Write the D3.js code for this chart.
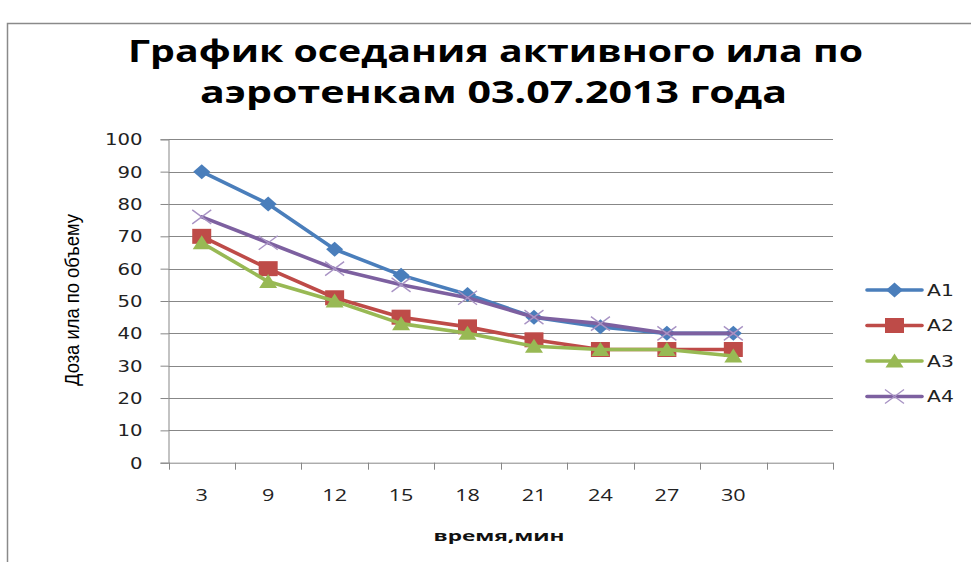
<!DOCTYPE html>
<html>
<head>
<meta charset="utf-8">
<script src="https://cdn.jsdelivr.net/npm/d3@7"></script>
<style>
  html, body { margin: 0; padding: 0; background: #fff; overflow: hidden; }
  svg { display: block; }
</style>
</head>
<body>
<svg id="chart" width="971" height="562"></svg>
<script>
// Время отбора пробы, мин
const categories = ["3", "9", "12", "15", "18", "21", "24", "27", "30"];
// Доза ила по объему для каждого аэротенка
const seriesNames = ["A1", "A2", "A3", "A4"];
const valuesA1 = [90, 80, 66, 58, 52, 45, 42, 40, 40];
const valuesA2 = [70, 60, 51, 45, 42, 38, 35, 35, 35];
const valuesA3 = [68, 56, 50, 43, 40, 36, 35, 35, 33];
const valuesA4 = [76, 68, 60, 55, 51, 45, 43, 40, 40];
const yTicks = [0, 10, 20, 30, 40, 50, 60, 70, 80, 90, 100];

const titleLines = ["График оседания активного ила по", "аэротенкам 03.07.2013 года"];
const xTitle = "время,мин";
const yTitle = "Доза ила по объему";

const colors = ["#4A7EBB", "#BE4B48", "#98B954", "#7D60A0"];
const markers = ["diamond", "square", "triangle", "cross"];
const series = seriesNames.map((name, i) => ({
  name,
  values: [valuesA1, valuesA2, valuesA3, valuesA4][i],
  color: colors[i],
  marker: markers[i]
}));

const svg = d3.select("#chart");
const STRETCH = 1.27;     // horizontal widening of all lettering
const gridColor = "#878787";

// widen text glyphs horizontally by a factor
function widen(sel, factor) {
  sel.each(function () {
    const w = this.getComputedTextLength();
    d3.select(this).attr("textLength", w * factor).attr("lengthAdjust", "spacingAndGlyphs");
  });
}

// outer chart frame
svg.append("rect")
  .attr("x", 7.5).attr("y", 23.5)
  .attr("width", 1000).attr("height", 600)
  .attr("fill", "none").attr("stroke", "#8a8a8a").attr("stroke-width", 1.5);

// title
const titleFont = "'Open Sans', sans-serif";
svg.append("text")
  .attr("x", 495.5).attr("y", 62)
  .attr("text-anchor", "middle")
  .style("font-family", titleFont).style("font-weight", 700).style("font-size", "30px")
  .attr("textLength", 735).attr("lengthAdjust", "spacingAndGlyphs")
  .text(titleLines[0]);
svg.append("text")
  .attr("x", 493.5).attr("y", 103)
  .attr("text-anchor", "middle")
  .style("font-family", titleFont).style("font-weight", 700).style("font-size", "30px")
  .attr("textLength", 587).attr("lengthAdjust", "spacingAndGlyphs")
  .text(titleLines[1]);

// plot area
const plot = { left: 168.5, right: 833, top: 139.3, bottom: 462.7 };
const slots = categories.concat([" "]);
const x = d3.scaleBand().domain(slots).range([plot.left, plot.right]).padding(0);
const y = d3.scaleLinear().domain([0, 100]).range([plot.bottom, plot.top]);

// horizontal gridlines
svg.append("g")
  .selectAll("line")
  .data(yTicks.filter(t => t > 0))
  .join("line")
  .attr("x1", plot.left).attr("x2", plot.right)
  .attr("y1", d => Math.round(y(d)) + 0.5).attr("y2", d => Math.round(y(d)) + 0.5)
  .attr("stroke", gridColor).attr("stroke-width", 1);

// y axis
const yAxis = svg.append("g")
  .attr("transform", `translate(${plot.left},0)`)
  .call(d3.axisLeft(y).tickValues(yTicks).tickSize(8).tickPadding(18));
yAxis.select(".domain").attr("stroke", gridColor);
yAxis.selectAll(".tick line").attr("stroke", gridColor);
yAxis.selectAll(".tick text")
  .style("font-family", "'DejaVu Sans', sans-serif").style("font-size", "15.5px")
  .attr("fill", "#222").attr("dy", "0.36em")
  .call(widen, STRETCH);

// x axis (ticks on category boundaries)
const xAxis = svg.append("g")
  .attr("transform", `translate(0,${plot.bottom})`)
  .call(d3.axisBottom(x).tickSize(0).tickPadding(0));
xAxis.select(".domain").attr("stroke", gridColor);
xAxis.selectAll(".tick text")
  .attr("y", 38).attr("dy", 0)
  .style("font-family", "'Open Sans', sans-serif").style("font-size", "17px")
  .attr("fill", "#222")
  .call(widen, STRETCH);
xAxis.selectAll(".boundary")
  .data(slots.map(s => x(s)).concat([x(slots[slots.length - 1]) + x.bandwidth()]))
  .join("line")
  .attr("class", "boundary")
  .attr("x1", d => Math.round(d) + 0.5).attr("x2", d => Math.round(d) + 0.5)
  .attr("y1", 0).attr("y2", 7)
  .attr("stroke", gridColor);

// axis titles
svg.append("text")
  .attr("x", 499).attr("y", 541)
  .attr("text-anchor", "middle")
  .style("font-family", "'Open Sans', sans-serif").style("font-weight", 700).style("font-size", "14px")
  .attr("fill", "#111")
  .attr("textLength", 131).attr("lengthAdjust", "spacingAndGlyphs")
  .text(xTitle);
svg.append("text")
  .attr("transform", "translate(79,300) rotate(-90) scale(1,1.15)")
  .attr("text-anchor", "middle")
  .style("font-family", "'Liberation Sans', sans-serif").style("font-size", "17px")
  .style("font-weight", 500)
  .attr("fill", "#000")
  .attr("textLength", 172).attr("lengthAdjust", "spacingAndGlyphs")
  .text(yTitle);

// marker shapes
function markerPath(type) {
  switch (type) {
    case "diamond": return "M0,-7.5L8.5,0L0,7.5L-8.5,0Z";
    case "square": return "M-9.5,-7.5H9.5V7.5H-9.5Z";
    case "triangle": return "M0,-7.5L9,6.5H-9Z";
    case "cross": return "M-9.5,-7L9.5,7M-9.5,7L9.5,-7";
  }
}
function drawMarker(g, s) {
  if (s.marker === "cross") {
    g.append("path").attr("d", markerPath("cross"))
      .attr("fill", "none").attr("stroke", "#a893c4").attr("stroke-width", 1.4);
  } else {
    g.append("path").attr("d", markerPath(s.marker)).attr("fill", s.color);
  }
}

// series lines and markers
const cx = c => x(c) + x.bandwidth() / 2;
const line = d3.line().x(d => cx(d.c)).y(d => y(d.v));
series.forEach(s => {
  const pts = categories.map((c, i) => ({ c, v: s.values[i] }));
  svg.append("path")
    .datum(pts)
    .attr("d", line)
    .attr("fill", "none").attr("stroke", s.color)
    .attr("stroke-width", 3.6).attr("stroke-linejoin", "round").attr("stroke-linecap", "round");
  svg.append("g").selectAll("g")
    .data(pts)
    .join("g")
    .attr("transform", d => `translate(${cx(d.c)},${y(d.v)})`)
    .each(function () { drawMarker(d3.select(this), s); });
});

// legend
const legend = svg.append("g");
const legendY = d3.scalePoint().domain(seriesNames).range([290, 396.5]);
series.forEach(s => {
  const ly = legendY(s.name);
  legend.append("line")
    .attr("x1", 867).attr("x2", 922).attr("y1", ly).attr("y2", ly)
    .attr("stroke", s.color).attr("stroke-width", 3.6).attr("stroke-linecap", "round");
  const g = legend.append("g").attr("transform", `translate(894.5,${ly})`);
  drawMarker(g, s);
  legend.append("text")
    .attr("x", 927).attr("y", ly).attr("dy", "0.36em")
    .style("font-family", "'DejaVu Sans', sans-serif").style("font-size", "16px")
    .attr("fill", "#222")
    .text(s.name)
    .call(widen, STRETCH);
});
</script>
</body>
</html>
